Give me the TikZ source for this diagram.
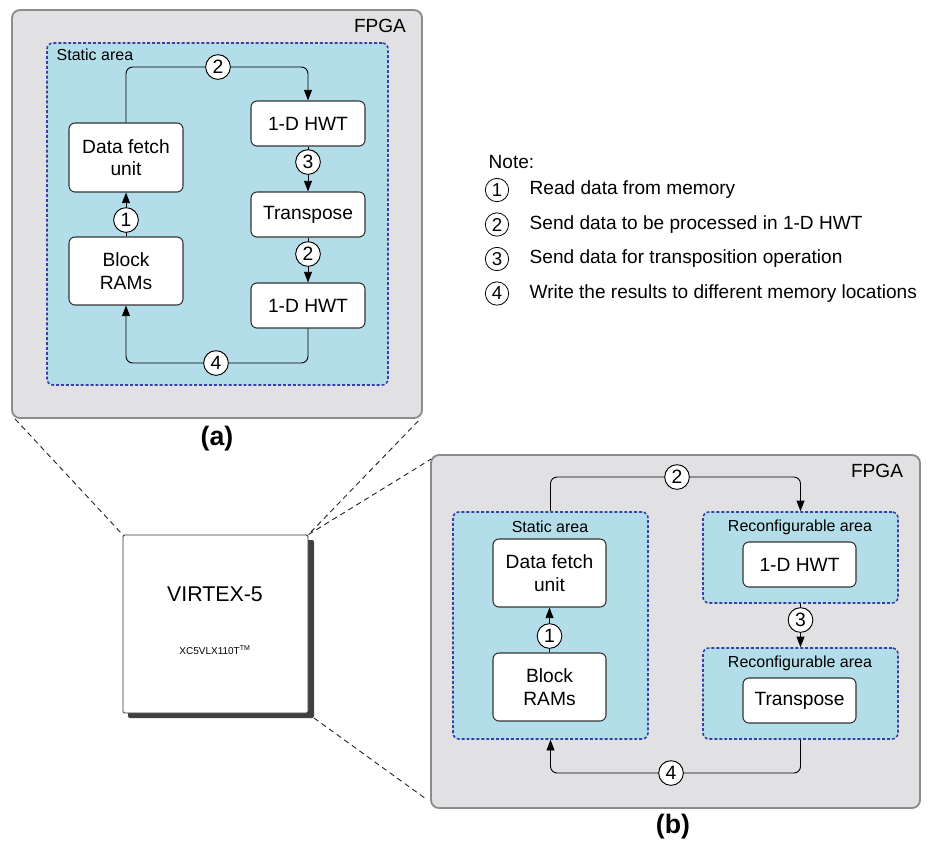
\documentclass[tikz,border=0pt]{standalone}
\usepackage{fontspec}
\setmainfont{Liberation Sans}
\usetikzlibrary{arrows.meta}

\definecolor{fpgafill}{HTML}{E1E0E2}
\definecolor{fpgaline}{HTML}{8C8C8C}
\definecolor{areafill}{HTML}{B3DDE8}
\definecolor{arealine}{HTML}{3640A8}
\definecolor{unitline}{HTML}{333333}
\definecolor{shadowgray}{HTML}{404040}

\tikzset{
  fpgabox/.style={draw=fpgaline, fill=fpgafill, line width=1.4pt, rounded corners=6pt,
    inner sep=0pt},
  areabox/.style={draw=arealine, fill=areafill, line width=1.2pt, rounded corners=4.5pt,
    dash pattern=on 2.2pt off 1.5pt, inner sep=0pt},
  unitbox/.style={draw=unitline, fill=white, line width=0.8pt, rounded corners=4.5pt,
    inner sep=0pt, align=center, font=\fontsize{14.4}{16.7}\selectfont},
  numcirc/.style={circle, draw=black, fill=white, line width=0.7pt, minimum size=18.5pt,
    inner sep=0pt, font=\fontsize{14.5}{14.5}\selectfont},
  notecirc/.style={circle, draw=black, line width=0.6pt, minimum size=17.5pt,
    inner sep=0pt, font=\fontsize{14}{14}\selectfont},
  flow/.style={draw=black, line width=0.7pt, rounded corners=5pt,
    -{Triangle[length=8pt,width=6pt]}},
  zoomline/.style={draw=black!85, line width=0.7pt, dash pattern=on 4pt off 3pt},
  fpgalabel/.style={font=\fontsize{14.3}{14.3}\selectfont},
  arealabel/.style={font=\fontsize{12}{12}\selectfont},
  notetext/.style={anchor=west, font=\fontsize{14.3}{14.3}\selectfont},
  caption/.style={font=\bfseries\fontsize{20}{20}\selectfont},
}

\begin{document}
\begin{tikzpicture}[x=0.75pt, y=-0.75pt]
\useasboundingbox (0,0) rectangle (935,840);

% ---------------- (a) single static area ----------------
\node[fpgabox, minimum width=307.5pt, minimum height=306pt] (fpgaA) at (217,214) {};
\node[fpgalabel] (fpgaAlbl) at (380,26) {FPGA};
\node[areabox, minimum width=255.75pt, minimum height=256.5pt] (staticA) at (217.5,214) {};
\node[arealabel, anchor=west] (staticAlbl) at (52,55) {Static area};

\node[unitbox, minimum width=85.5pt, minimum height=51.75pt] (dfA) at (126,157.5) {Data fetch\\unit};
\node[unitbox, minimum width=85.5pt, minimum height=51pt] (brA) at (126,271) {Block\\RAMs};
\node[unitbox, minimum width=85.5pt, minimum height=33.75pt] (hwA1) at (308,123.5) {1-D HWT};
\node[unitbox, minimum width=85.5pt, minimum height=33.75pt] (trA) at (308,214.5) {Transpose};
\node[unitbox, minimum width=85.5pt, minimum height=33.75pt] (hwA2) at (308,305.5) {1-D HWT};

\coordinate (c2Apos) at (218,67);
\coordinate (c4Apos) at (216,363);
\draw[flow] (brA.north) -- (dfA.south);
\draw[flow] (hwA1.south) -- (trA.north);
\draw[flow] (trA.south) -- (hwA2.north);
\draw[flow] (dfA.north) |- (c2Apos) -| (hwA1.north);
\draw[flow] (hwA2.south) |- (c4Apos) -| (brA.south);

\node[numcirc] (c1A) at (126,220) {1};
\node[numcirc] (c2A) at (c2Apos) {2};
\node[numcirc] (c3A) at (308,162) {3};
\node[numcirc] (c2Ab) at (308,254) {2};
\node[numcirc] (c4A) at (c4Apos) {4};

\node[caption] (capA) at (217,439) {(a)};

% ---------------- legend ----------------
\node[notetext] (note) at (484,162) {Note:};
\node[notecirc] (n1) at (497,190) {1};
\node[notecirc] (n2) at (497,224.5) {2};
\node[notecirc] (n3) at (497,259) {3};
\node[notecirc] (n4) at (497,293.5) {4};
\node[notetext] (t1) at (525,190) {Read data from memory};
\node[notetext] (t2) at (525,224.5) {Send data to be processed in 1-D HWT};
\node[notetext] (t3) at (525,259) {Send data for transposition operation};
\node[notetext] (t4) at (525,293.5) {Write the results to different memory locations};

% ---------------- device package ----------------
\fill[shadowgray, rounded corners=1.5pt] (128,540) rectangle (314,718);
\node[draw=unitline, fill=white, line width=0.7pt, rounded corners=1pt,
      minimum width=138.75pt, minimum height=133.5pt, inner sep=0pt] (chip) at (215.5,624) {};
\coordinate (shadowSE) at (314,718);
\node[font=\fontsize{16}{16}\selectfont] (chipname) at (215,594) {VIRTEX-5};
\node[font=\fontsize{7.5}{7.5}\selectfont] (chippart) at (215,650) {XC5VLX110T\textsuperscript{TM}};

% ---------------- (b) static and reconfigurable areas ----------------
\node[fpgabox, minimum width=366.75pt, minimum height=264.75pt] (fpgaB) at (675.5,631.5) {};
\node[fpgalabel] (fpgaBlbl) at (877,471) {FPGA};

\node[areabox, minimum width=146.25pt, minimum height=170.25pt] (staticB) at (550.5,625.5) {};
\node[arealabel] (staticBlbl) at (550,527) {Static area};
\node[areabox, minimum width=146.25pt, minimum height=68.25pt] (recB1) at (800.5,557.5) {};
\node[arealabel] (recB1lbl) at (800,527) {Reconfigurable area};
\node[areabox, minimum width=146.25pt, minimum height=68.25pt] (recB2) at (800.5,693.5) {};
\node[arealabel] (recB2lbl) at (800,663) {Reconfigurable area};

\node[unitbox, minimum width=84.75pt, minimum height=51pt] (dfB) at (549.5,573) {Data fetch\\unit};
\node[unitbox, minimum width=84.75pt, minimum height=51pt] (brB) at (549.5,687) {Block\\RAMs};
\node[unitbox, minimum width=84.75pt, minimum height=33.75pt] (hwB) at (799.5,564.5) {1-D HWT};
\node[unitbox, minimum width=84.75pt, minimum height=33.75pt] (trB) at (799.5,700.5) {Transpose};

\coordinate (c2Bpos) at (677,477);
\coordinate (c4Bpos) at (671,773);
\draw[flow] (brB.north) -- (dfB.south);
\draw[flow] (recB1.south) -- (recB2.north);
\draw[flow] (staticB.north) |- (c2Bpos) -| (recB1.north);
\draw[flow] (recB2.south) |- (c4Bpos) -| (staticB.south);

\node[numcirc] (c1B) at (549.5,636) {1};
\node[numcirc] (c2B) at (c2Bpos) {2};
\node[numcirc] (c3B) at (800.5,620) {3};
\node[numcirc] (c4B) at (c4Bpos) {4};

\node[caption] (capB) at (673,827) {(b)};

% ---------------- zoom lines ----------------
\draw[zoomline] ([xshift=3pt]fpgaA.south west) -- (chip.north west);
\draw[zoomline] ([xshift=-3.5pt,yshift=-1.5pt]fpgaA.south east) -- (chip.north east);
\draw[zoomline] (chip.north east) -- ([xshift=0.75pt,yshift=-3.75pt]fpgaB.north west);
\draw[zoomline] (shadowSE) -- ([xshift=-3pt,yshift=7.5pt]fpgaB.south west);
\end{tikzpicture}
\end{document}
